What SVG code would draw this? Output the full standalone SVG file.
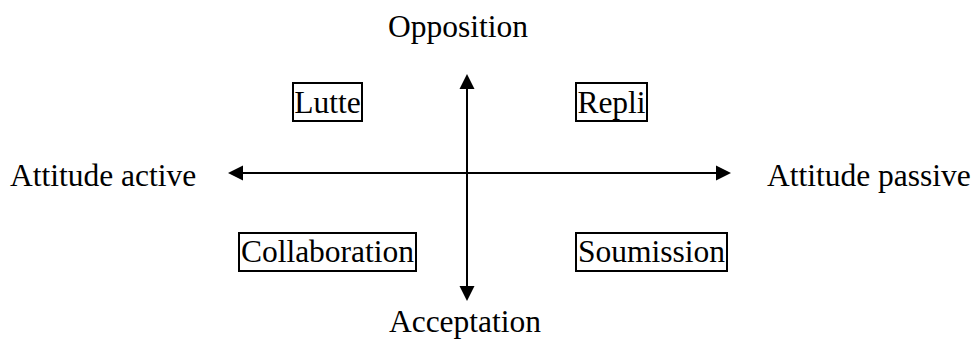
<svg xmlns="http://www.w3.org/2000/svg" width="975" height="341" viewBox="0 0 975 341">
<style>
text{font-family:"Liberation Serif","Times New Roman",serif;font-size:31.5px;fill:#000}
.box{fill:#fff;stroke:#000;stroke-width:2}
.ax{stroke:#000;stroke-width:2;fill:none}
.head{fill:#000}
</style>
<rect width="975" height="341" fill="#fff"/>
<g id="connectors">
<line class="ax" x1="467" y1="86" x2="467" y2="289"/>
<polygon class="head" points="467,74 459.5,89 474.5,89"/>
<polygon class="head" points="467,301 459.5,286 474.5,286"/>
<line class="ax" x1="240" y1="173" x2="719" y2="173"/>
<polygon class="head" points="228,173 243,165.5 243,180.5"/>
<polygon class="head" points="731,173 716,165.5 716,180.5"/>
</g>
<g id="opposition"><text x="458" y="37" text-anchor="middle">Opposition</text></g>
<g id="acceptation"><text x="465" y="332" text-anchor="middle">Acceptation</text></g>
<g id="attitude-active"><text x="10" y="186">Attitude active</text></g>
<g id="attitude-passive"><text x="767" y="186">Attitude passive</text></g>
<g id="lutte"><rect class="box" x="293" y="83" width="69" height="38"/><text x="327.5" y="113" text-anchor="middle">Lutte</text></g>
<g id="repli"><rect class="box" x="576" y="83" width="71" height="38"/><text x="611.5" y="113" text-anchor="middle">Repli</text></g>
<g id="collaboration"><rect class="box" x="239" y="233" width="177" height="38"/><text x="327.5" y="262" text-anchor="middle">Collaboration</text></g>
<g id="soumission"><rect class="box" x="576" y="233" width="151" height="38"/><text x="651.5" y="262" text-anchor="middle">Soumission</text></g>
</svg>
